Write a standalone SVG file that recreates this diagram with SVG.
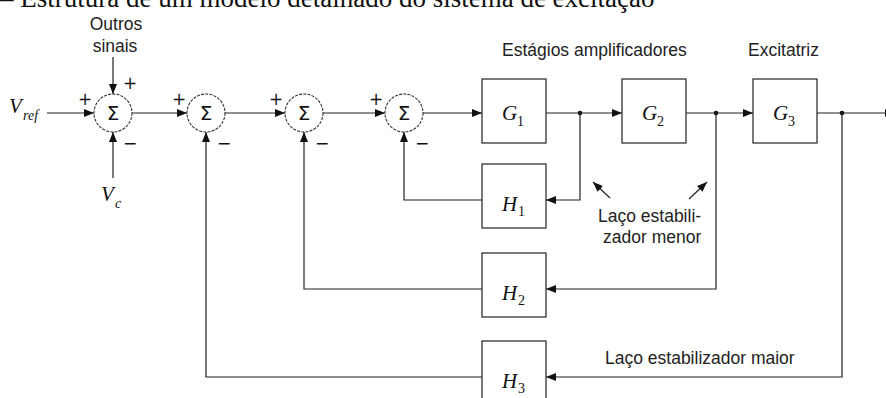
<svg xmlns="http://www.w3.org/2000/svg" width="886" height="398" viewBox="0 0 886 398">
<style>
.ln{stroke:#222;stroke-width:1.2;fill:none}
.bx{stroke:#222;stroke-width:1.2;fill:#fff}
.sum{stroke:#333;stroke-width:1.1;fill:#fff;stroke-dasharray:3 1.2}
.sg{font-family:"DejaVu Sans",sans-serif;font-size:20px;fill:#111;text-anchor:middle}
.lb{font-family:"Liberation Sans",Arial,sans-serif;font-size:17.5px;fill:#222}
.pm{font-family:"DejaVu Sans",sans-serif;font-size:17px;fill:#111}
.mv{font-family:"Liberation Serif","Times New Roman",serif;font-style:italic;font-size:21px;fill:#111}
.sub{font-family:"Liberation Serif","Times New Roman",serif;font-style:italic;font-size:14px;fill:#111}
.sn{font-family:"Liberation Serif","Times New Roman",serif;font-size:14px;fill:#111}
.ttl{font-family:"Liberation Serif","Times New Roman",serif;font-size:27px;fill:#111}
</style>
<defs>
<marker id="ah" markerWidth="11" markerHeight="9" refX="10" refY="4" orient="auto" markerUnits="userSpaceOnUse">
<path d="M0,0 L10,4 L0,8 z" fill="#111"/>
</marker>
</defs>
<text class="ttl" x="0" y="7">– Estrutura de um modelo detalhado do sistema de excitação</text>

<g id="connectors">
<line class="ln" x1="47" y1="113" x2="94" y2="113" marker-end="url(#ah)"/>
<line class="ln" x1="113" y1="57" x2="113" y2="94" marker-end="url(#ah)"/>
<line class="ln" x1="113" y1="178" x2="113" y2="132" marker-end="url(#ah)"/>
<line class="ln" x1="132" y1="113" x2="187" y2="113" marker-end="url(#ah)"/>
<line class="ln" x1="225" y1="113" x2="285" y2="113" marker-end="url(#ah)"/>
<line class="ln" x1="323" y1="113" x2="385" y2="113" marker-end="url(#ah)"/>
<line class="ln" x1="423" y1="113" x2="482" y2="113" marker-end="url(#ah)"/>
<line class="ln" x1="546" y1="113" x2="622" y2="113" marker-end="url(#ah)"/>
<line class="ln" x1="686" y1="113" x2="753" y2="113" marker-end="url(#ah)"/>
<line class="ln" x1="817" y1="113" x2="895" y2="113" marker-end="url(#ah)"/>
<circle cx="580" cy="113" r="2.3" fill="#111"/>
<circle cx="716" cy="113" r="2.3" fill="#111"/>
<circle cx="842" cy="113" r="2.3" fill="#111"/>
<polyline class="ln" points="580,113 580,200 546,200" marker-end="url(#ah)"/>
<polyline class="ln" points="482,200 404,200 404,132" marker-end="url(#ah)"/>
<polyline class="ln" points="716,113 716,289 546,289" marker-end="url(#ah)"/>
<polyline class="ln" points="482,289 304,289 304,132" marker-end="url(#ah)"/>
<polyline class="ln" points="842,113 842,377 546,377" marker-end="url(#ah)"/>
<polyline class="ln" points="482,377 206,377 206,132" marker-end="url(#ah)"/>
<line class="ln" x1="610" y1="198" x2="593" y2="182" marker-end="url(#ah)"/>
<line class="ln" x1="689" y1="199" x2="707" y2="182" marker-end="url(#ah)"/>
</g>

<g id="labels">
<text class="lb" x="116" y="30" text-anchor="middle">Outros</text>
<text class="lb" x="115" y="52" text-anchor="middle">sinais</text>
<text class="lb" x="502" y="56">Estágios amplificadores</text>
<text class="lb" x="748" y="56">Excitatriz</text>
<text class="lb" x="598" y="222">Laço estabili-</text>
<text class="lb" x="603" y="243">zador menor</text>
<text class="lb" x="605" y="364">Laço estabilizador maior</text>
<text class="mv" x="9" y="113">V</text><text class="sub" x="23" y="120">ref</text>
<text class="mv" x="101" y="201">V</text><text class="sub" x="115" y="208">c</text>
</g>

<g id="sum1"><circle class="sum" cx="113" cy="113" r="19"/><text class="sg" x="113" y="120">Σ</text>
<text class="pm" x="78" y="105">+</text><text class="pm" x="123" y="89">+</text><text class="pm" x="123" y="149">−</text></g>
<g id="sum2"><circle class="sum" cx="206" cy="113" r="19"/><text class="sg" x="206" y="120">Σ</text>
<text class="pm" x="172" y="105">+</text><text class="pm" x="217" y="149">−</text></g>
<g id="sum3"><circle class="sum" cx="304" cy="113" r="19"/><text class="sg" x="304" y="120">Σ</text>
<text class="pm" x="269" y="105">+</text><text class="pm" x="315" y="149">−</text></g>
<g id="sum4"><circle class="sum" cx="404" cy="113" r="19"/><text class="sg" x="404" y="120">Σ</text>
<text class="pm" x="369" y="105">+</text><text class="pm" x="415" y="149">−</text></g>

<g id="G1"><rect class="bx" x="482" y="79" width="64" height="64"/><text class="mv" x="502" y="120">G</text><text class="sn" x="517" y="126">1</text></g>
<g id="G2"><rect class="bx" x="622" y="79" width="64" height="64"/><text class="mv" x="642" y="120">G</text><text class="sn" x="657" y="126">2</text></g>
<g id="G3"><rect class="bx" x="753" y="79" width="64" height="64"/><text class="mv" x="773" y="120">G</text><text class="sn" x="788" y="126">3</text></g>
<g id="H1"><rect class="bx" x="482" y="164" width="64" height="64"/><text class="mv" x="502" y="211">H</text><text class="sn" x="518" y="216">1</text></g>
<g id="H2"><rect class="bx" x="482" y="253" width="64" height="64"/><text class="mv" x="502" y="300">H</text><text class="sn" x="518" y="305">2</text></g>
<g id="H3"><rect class="bx" x="482" y="341" width="64" height="64"/><text class="mv" x="502" y="388">H</text><text class="sn" x="518" y="393">3</text></g>
</svg>
